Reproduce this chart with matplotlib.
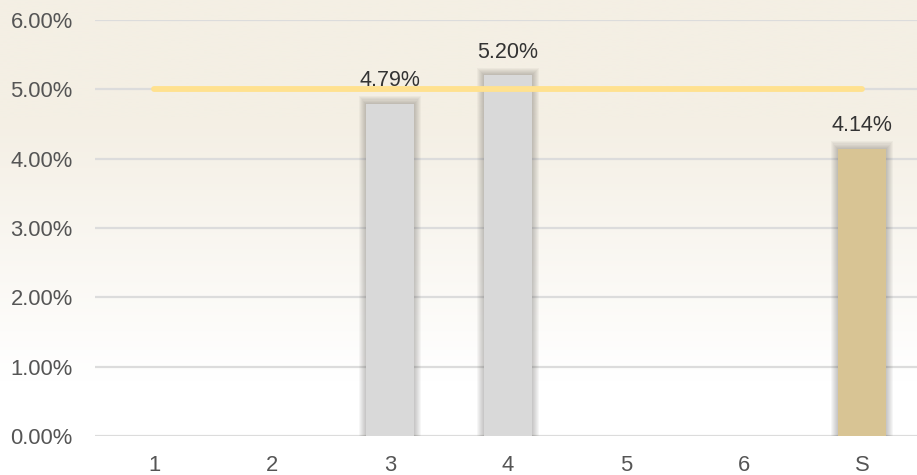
import numpy as np
import matplotlib
matplotlib.use("Agg")
import matplotlib.pyplot as plt
from matplotlib.patches import Rectangle
from matplotlib.ticker import FuncFormatter

categories = ['1', '2', '3', '4', '5', '6', 'S']
values = [0.0, 0.0, 4.79, 5.20, 0.0, 0.0, 4.14]
target = 5.0
highlight = 'S'

plt.rcParams['font.family'] = ['Liberation Sans', 'DejaVu Sans']

W, H = 917, 475
fig = plt.figure(figsize=(W / 100, H / 100), dpi=100)

# background gradient (beige at top -> white at bottom)
bg = fig.add_axes([0, 0, 1, 1], zorder=-10)
bg.axis('off')
t = np.linspace(0, 1, 300)
top = np.array([244, 239, 228]) / 255
frac = np.clip((t - 0.25) / 0.55, 0, 1)
grad = top[None, :] * (1 - frac[:, None]) + np.ones(3)[None, :] * frac[:, None]
bg.imshow(grad[:, None, :], aspect='auto', extent=[0, 1, 0, 1])

left, right, bottom, topy = 95, 921, 475 - 436, 475 - 20
ax = fig.add_axes([left / W, bottom / H, (right - left) / W, (topy - bottom) / H])
ax.patch.set_alpha(0)

x = np.arange(len(categories))
ax.set_xlim(-0.5, len(categories) - 0.5)
ax.set_ylim(0, 6)

px_x = len(categories) / (right - left)
px_y = 6 / (topy - bottom)

bar_w = 0.41
for xi, cat, v in zip(x, categories, values):
    if v <= 0:
        continue
    # soft shadow
    for k in range(1, 8):
        ax.add_patch(Rectangle((xi - bar_w / 2 - k * px_x, 0),
                               bar_w + 2 * k * px_x, v + k * px_y * 1.1,
                               color='#3c3a36', alpha=0.045, lw=0, zorder=2))
    col = '#d8c494' if cat == highlight else '#d9d9d9'
    ax.bar(xi, v, width=bar_w, color=col, zorder=3)
    ax.annotate(f'{v:.2f}%', (xi, v), xytext=(0, 9), textcoords='offset points',
                ha='center', va='bottom', fontsize=15.5, color='#333333', zorder=5)

ax.plot([x[0], x[-1]], [target, target], color='#ffe18f', lw=4.2,
        solid_capstyle='round', zorder=4)

ax.set_yticks(np.arange(0, 7, 1))
ax.yaxis.set_major_formatter(FuncFormatter(lambda v, p: f'{v:.2f}%'))
ax.set_xticks(x)
ax.set_xticklabels(categories)
ax.grid(axis='y', color='#dcdcdc', lw=1.6, zorder=0)
ax.set_axisbelow(True)
for s in ax.spines.values():
    s.set_visible(False)
ax.tick_params(axis='y', length=0, pad=16, labelsize=15.8, labelcolor='#555555')
ax.tick_params(axis='x', length=0, pad=14, labelsize=15.8, labelcolor='#555555')

fig.savefig('out.png', dpi=100)
